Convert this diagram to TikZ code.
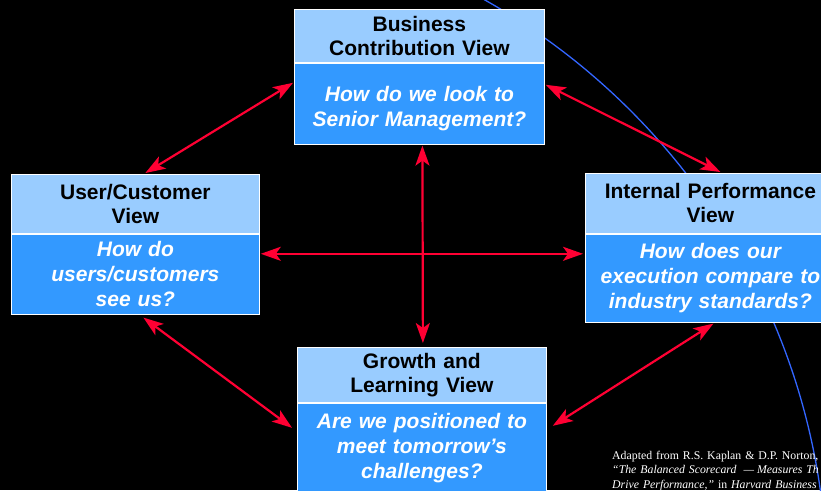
\documentclass[tikz,border=0pt]{standalone}
\usepackage{fontspec}
\setmainfont{Liberation Serif}
\setsansfont{Liberation Sans}
\usetikzlibrary{positioning,arrows.meta}
\definecolor{headblue}{HTML}{99CCFF}
\definecolor{askblue}{HTML}{3399FF}
\definecolor{linkred}{HTML}{FF0033}
\definecolor{arcblue}{HTML}{3366FF}
\tikzset{redtip/.tip={Stealth[length=20pt, width=14pt, inset=5pt]}}
\begin{document}
\begin{tikzpicture}[x=1pt, y=-1pt,
  view node/.style={draw=white, line width=0.8pt, fill=headblue, text width=250pt, align=center, font=\sffamily\bfseries\fontsize{21}{24}\selectfont},
  ask node/.style={view node, fill=askblue, text=white, font=\sffamily\bfseries\itshape\fontsize{21}{25}\selectfont},
  link/.style={color=linkred, line width=2.2pt, every edge/.style={draw, redtip-redtip}}]
        \tikzstyle{every node}=[inner sep=0pt]

        \useasboundingbox (0,0) rectangle (821,490);
        \clip (0,0) rectangle (821,490);
        \fill[black] (0,0) rectangle (821,490);
        \draw[arcblue, line width=1.3pt] (156,585) circle[radius=671pt];

          \node[view node, minimum height=53pt, anchor=north west] (1) at (294,9) {Business\\Contribution View};
          \node[ask node, minimum height=81pt, text height=25pt, below=0pt of 1] (1q) {How do we look to\\Senior Management?};
          \node[view node, text width=248pt, minimum height=59pt, anchor=north west] (2) at (11,174) {User/Customer\\View};
          \node[ask node, text width=248pt, minimum height=80pt, below=0pt of 2] (2q) {How do\\users/customers\\see us?};
          \node[view node, minimum height=60pt, anchor=north west] (3) at (585,173) {Internal Performance\\View};
          \node[ask node, minimum height=88pt, below=0pt of 3] (3q) {How does our\\execution compare to\\industry standards?};
          \node[view node, text width=249pt, minimum height=55pt, anchor=north west] (4) at (297,347) {Growth and\\Learning View};
          \node[ask node, text width=249pt, minimum height=90pt, below=0pt of 4] (4q) {Are we positioned to\\meet tomorrow’s\\challenges?};

          \node[text=white, text width=260pt, align=left, font=\fontsize{11.8}{14.5}\selectfont, anchor=base west] (src) at (612,459)
            {Adapted from R.S. Kaplan \& D.P. Norton,\\
             \textit{“The Balanced Scorecard\hspace{7pt}—\hspace{3pt}Measures Th}\\
             \textit{Drive Performance,”} in \textit{Harvard Business}};

          \path[link]
            ([xshift=-1pt,yshift=-20pt]1q.north west) edge ([xshift=10pt,yshift=1pt]2.north)
            ([xshift=1pt,yshift=-22pt]1q.north east) edge ([xshift=10pt,yshift=1pt]3.north)
            ([xshift=8pt,yshift=-3pt]2q.south) edge ([xshift=-5pt,yshift=-25pt]4q.north west)
            ([xshift=6pt,yshift=-23pt]4q.north east) edge ([xshift=3pt,yshift=-1pt]3q.south)
            ([xshift=1pt,yshift=-20pt]2q.north east) edge ([xshift=-2pt,yshift=-20pt]3q.north west)
            ([xshift=3pt,yshift=-1pt]1q.south) edge ([xshift=1pt,yshift=4pt]4.north);

        \end{tikzpicture}
\end{document}
